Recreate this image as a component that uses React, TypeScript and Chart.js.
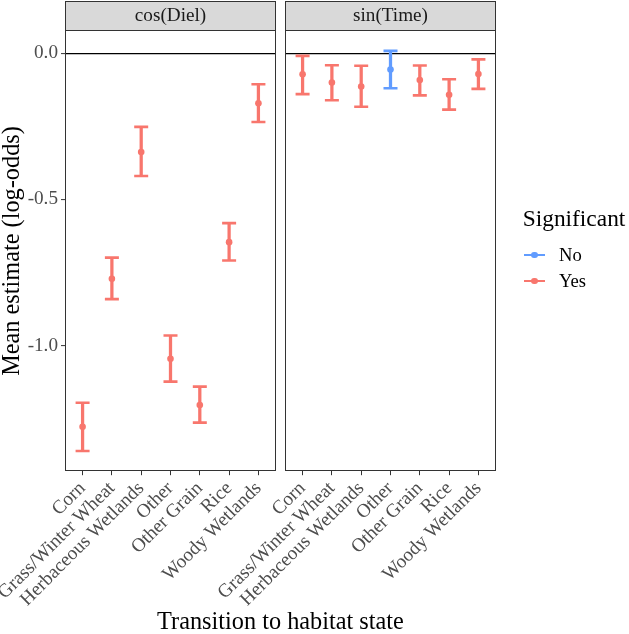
import React, { useEffect, useRef } from "react";
import { Chart, registerables } from "chart.js";
Chart.register(...registerables);

// ---------- data ----------
const categories = [
  "Corn",
  "Grass/Winter Wheat",
  "Herbaceous Wetlands",
  "Other",
  "Other Grain",
  "Rice",
  "Woody Wetlands",
];
const facetLabels = ["cos(Diel)", "sin(Time)"];

const dielEstimate = [-1.277, -0.771, -0.338, -1.045, -1.203, -0.646, -0.171];
const dielLower = [-1.36, -0.841, -0.42, -1.123, -1.263, -0.709, -0.235];
const dielUpper = [-1.195, -0.699, -0.252, -0.965, -1.14, -0.581, -0.106];
const dielSignificant = ["Yes", "Yes", "Yes", "Yes", "Yes", "Yes", "Yes"];

const timeEstimate = [-0.072, -0.1, -0.114, -0.056, -0.092, -0.142, -0.071];
const timeLower = [-0.14, -0.161, -0.183, -0.12, -0.144, -0.193, -0.122];
const timeUpper = [-0.009, -0.041, -0.043, 0.008, -0.042, -0.089, -0.021];
const timeSignificant = ["Yes", "Yes", "Yes", "No", "Yes", "Yes", "Yes"];

const yTicks = [-1.0, -0.5, 0.0];
const yMin = -1.4275;
const yMax = 0.075;
const legendLevels = ["No", "Yes"];

// ---------- styles ----------
const COLORS: Record<string, string> = { No: "#619CFF", Yes: "#F8766D" };
const FONT = "'Liberation Serif', 'Times New Roman', serif";
const W = 629;
const H = 634;
const PANEL_LEFT = [65, 285];
const PANEL_RIGHT = [276, 496];
const PANEL_BOTTOM = 470.7;
const TICK_FONT = 19.2;
const TITLE_FONT = 24.3;

function panelConfig(p: number): any {
  const est = p === 0 ? dielEstimate : timeEstimate;
  const lower = p === 0 ? dielLower : timeLower;
  const upper = p === 0 ? dielUpper : timeUpper;
  const sig = p === 0 ? dielSignificant : timeSignificant;
  const cols = sig.map((s) => COLORS[s]);
  const isLeft = p === 0;

  const panelPlugin = {
    id: "panel" + p,
    beforeDraw(chart: any) {
      const { ctx, chartArea: a } = chart;
      ctx.save();
      const l = Math.round(a.left) + 0.5;
      const r = Math.round(a.right) - 0.5;
      const t = Math.round(a.top) - 0.5;
      ctx.fillStyle = "#D9D9D9";
      ctx.fillRect(l, 1.5, r - l, t - 1.5);
      ctx.strokeStyle = "#333333";
      ctx.lineWidth = 1;
      ctx.strokeRect(l, 1.5, r - l, t - 1.5);
      ctx.restore();
    },
    afterDraw(chart: any) {
      const { ctx, chartArea: a } = chart;
      ctx.save();
      const l = Math.round(a.left) + 0.5;
      const r = Math.round(a.right) - 0.5;
      const t = Math.round(a.top) - 0.5;
      const b = Math.round(a.bottom) - 0.5;
      ctx.strokeStyle = "#333333";
      ctx.lineWidth = 1;
      ctx.strokeRect(l, t, r - l, b - t);
      ctx.restore();
    },
  };

  return {
    type: "bar",
    data: {
      datasets: [
        {
          type: "bar",
          data: categories.map((_, i) => ({ x: i, y: [lower[i], upper[i]] })),
          backgroundColor: cols,
          borderWidth: 0,
          barThickness: 2.6,
          order: 3,
        },
        {
          type: "scatter",
          data: [
            ...categories.map((_, i) => ({ x: i, y: lower[i] })),
            ...categories.map((_, i) => ({ x: i, y: upper[i] })),
          ],
          pointStyle: "line",
          pointRadius: 7,
          pointBorderWidth: 2.6,
          pointBorderColor: [...cols, ...cols],
          pointBackgroundColor: [...cols, ...cols],
          order: 2,
        },
        {
          type: "scatter",
          data: categories.map((_, i) => ({ x: i, y: est[i] })),
          pointRadius: 3.3,
          pointBackgroundColor: cols,
          pointBorderColor: cols,
          pointBorderWidth: 0,
          order: 1,
        },
      ],
    },
    options: {
      responsive: false,
      animation: false,
      events: [],
      layout: {
        padding: { top: 1, left: 0, right: W - PANEL_RIGHT[p], bottom: 0 },
      },
      plugins: {
        legend: { display: false },
        tooltip: { enabled: false },
        title: {
          display: true,
          text: facetLabels[p],
          fullSize: false,
          color: "#1A1A1A",
          font: { family: FONT, size: TICK_FONT, weight: "normal", lineHeight: 1.15 },
          padding: { top: 4, bottom: 4.2 },
        },
      },
      scales: {
        x: {
          type: "linear",
          min: -0.6,
          max: 6.6,
          offset: false,
          afterBuildTicks: (s: any) => {
            s.ticks = categories.map((_, i) => ({ value: i }));
          },
          afterFit: (s: any) => {
            s.height = H - PANEL_BOTTOM;
          },
          grid: {
            drawOnChartArea: false,
            drawTicks: true,
            tickLength: 4.5,
            tickColor: "#333333",
            tickWidth: 1,
            offset: false,
          },
          border: { display: false },
          ticks: {
            autoSkip: false,
            maxRotation: 45,
            minRotation: 45,
            padding: 2,
            color: "#4D4D4D",
            font: { family: FONT, size: TICK_FONT },
            callback: (v: number) => categories[v],
          },
        },
        y: {
          type: "linear",
          min: yMin,
          max: yMax,
          display: true,
          afterBuildTicks: (s: any) => {
            s.ticks = yTicks.map((v) => ({ value: v }));
          },
          afterFit: (s: any) => {
            s.width = PANEL_LEFT[p];
          },
          grid: {
            drawOnChartArea: true,
            drawTicks: isLeft,
            tickLength: 4,
            tickColor: "#333333",
            tickWidth: 1,
            color: (c: any) => (c.tick && c.tick.value === 0 ? "#000000" : "rgba(0,0,0,0)"),
            lineWidth: 1.2,
          },
          border: { display: false },
          ticks: {
            display: isLeft,
            padding: 3,
            color: "#4D4D4D",
            font: { family: FONT, size: TICK_FONT },
            callback: (v: number) => v.toFixed(1),
          },
          title: {
            display: isLeft,
            text: "Mean estimate (log-odds)",
            color: "#000000",
            font: { family: FONT, size: TITLE_FONT, lineHeight: 1.05 },
            padding: 0,
          },
        },
      },
    },
    plugins: [panelPlugin],
  };
}

export default function App() {
  const refA = useRef<HTMLCanvasElement>(null);
  const refB = useRef<HTMLCanvasElement>(null);

  useEffect(() => {
    const c1 = new Chart(refA.current as HTMLCanvasElement, panelConfig(0));
    const c2 = new Chart(refB.current as HTMLCanvasElement, panelConfig(1));
    return () => {
      c1.destroy();
      c2.destroy();
    };
  }, []);

  const canvasStyle: React.CSSProperties = { position: "absolute", left: 0, top: 0 };
  const legendRowY = [255, 281];

  return (
    <div
      style={{
        position: "absolute",
        left: 0,
        top: 0,
        width: W,
        height: H,
        background: "#ffffff",
        fontFamily: FONT,
        overflow: "hidden",
      }}
    >
      <canvas ref={refA} width={W} height={H} style={canvasStyle} />
      <canvas ref={refB} width={W} height={H} style={canvasStyle} />

      {/* x axis title */}
      <div
        style={{
          position: "absolute",
          left: (PANEL_LEFT[0] + PANEL_RIGHT[1]) / 2,
          top: 629.3 - 0.8375 * TITLE_FONT,
          transform: "translateX(-50%)",
          fontSize: TITLE_FONT,
          lineHeight: TITLE_FONT + "px",
          whiteSpace: "nowrap",
          color: "#000",
        }}
      >
        Transition to habitat state
      </div>

      {/* legend */}
      <div
        style={{
          position: "absolute",
          left: 522.7,
          top: 226.7 - 0.8375 * 23.4,
          fontSize: 23.4,
          lineHeight: "23.4px",
          whiteSpace: "nowrap",
          color: "#000",
        }}
      >
        Significant
      </div>
      {legendLevels.map((lv, i) => (
        <React.Fragment key={lv}>
          <div
            style={{
              position: "absolute",
              left: 524,
              top: legendRowY[i] - 1.3,
              width: 21,
              height: 2.6,
              background: COLORS[lv],
            }}
          />
          <div
            style={{
              position: "absolute",
              left: 534.5 - 3.3,
              top: legendRowY[i] - 3.3,
              width: 6.6,
              height: 6.6,
              borderRadius: "50%",
              background: COLORS[lv],
            }}
          />
          <div
            style={{
              position: "absolute",
              left: 559,
              top: legendRowY[i] + 6.7 - 0.8375 * 18.6,
              fontSize: 18.6,
              lineHeight: "18.6px",
              whiteSpace: "nowrap",
              color: "#000",
            }}
          >
            {lv}
          </div>
        </React.Fragment>
      ))}
    </div>
  );
}
